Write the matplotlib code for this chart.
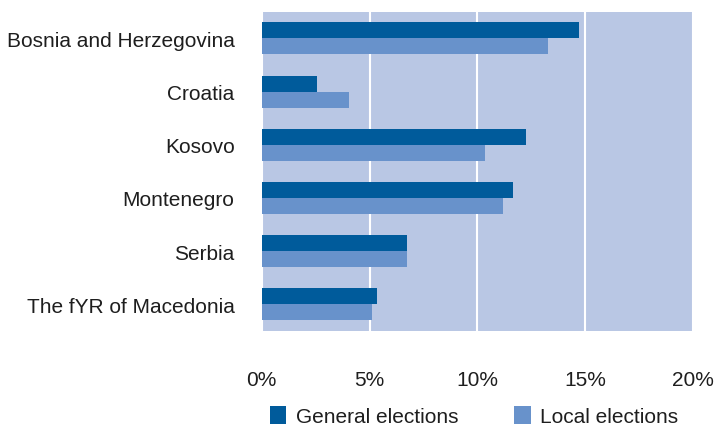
import numpy as np
import matplotlib.pyplot as plt
from matplotlib.ticker import FuncFormatter

plt.rcParams['font.family'] = ['Liberation Sans', 'DejaVu Sans']

countries = ['Bosnia and Herzegovina', 'Croatia', 'Kosovo', 'Montenegro',
             'Serbia', 'The fYR of Macedonia']
general = [14.7, 2.55, 12.25, 11.65, 6.75, 5.35]
local = [13.25, 4.05, 10.35, 11.2, 6.75, 5.1]

c_gen = '#005b9b'
c_loc = '#6892cb'
bg = '#b9c7e4'
txt = '#1e1e1e'

fig = plt.figure(figsize=(7.14, 4.27), dpi=100)
ax = fig.add_axes([0.3665, 0.2225, 0.6045, 0.7475])
ax.set_facecolor(bg)

y = np.arange(len(countries))
h = 0.3
ax.barh(y - h / 2, general, height=h, color=c_gen, label='General elections', zorder=3)
ax.barh(y + h / 2, local, height=h, color=c_loc, label='Local elections', zorder=3)

ax.set_xlim(0, 20)
ax.set_ylim(len(countries) - 0.5, -0.5)
ax.set_xticks([0, 5, 10, 15, 20])
ax.xaxis.set_major_formatter(FuncFormatter(lambda v, p: f'{v:.0f}%'))
ax.set_yticks(y)
ax.set_yticklabels(countries)
ax.grid(axis='x', color='white', linewidth=1.5, zorder=1)
ax.tick_params(axis='x', length=0, pad=28, labelsize=15, labelcolor=txt)
ax.tick_params(axis='y', length=0, pad=19.5, labelsize=15, labelcolor=txt)
for s in ax.spines.values():
    s.set_visible(False)

fig.legend(loc='center', bbox_to_anchor=(0.664, 0.024), ncol=2, frameon=False,
           fontsize=15, handlelength=0.8, handleheight=1.0, handletextpad=0.45,
           columnspacing=2.7, labelcolor=txt)

fig.savefig('out.png', dpi=100)
